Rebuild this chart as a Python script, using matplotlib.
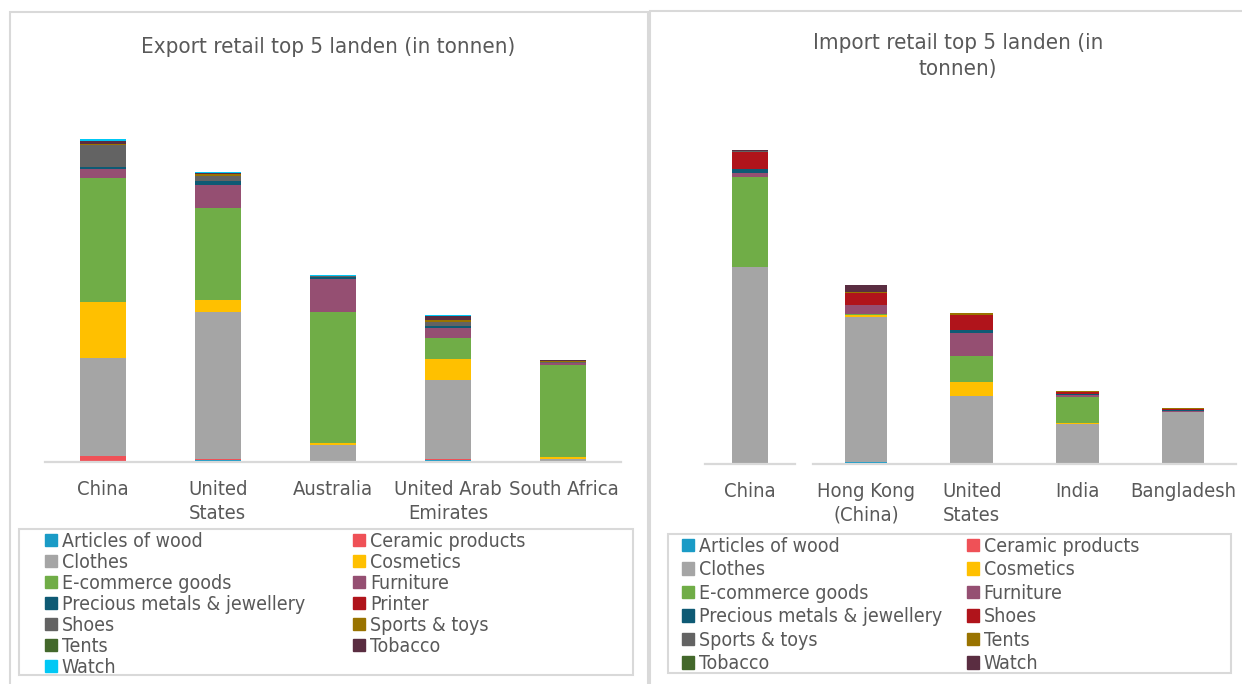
import matplotlib

matplotlib.use("Agg")
import matplotlib.pyplot as plt
from matplotlib.patches import Patch, Rectangle

plt.rcParams["font.family"] = ["DejaVu Sans"]
plt.rcParams["font.stretch"] = "condensed"

TXT = "#595959"
GRID = "#d9d9d9"

# export chart (estimated, tonnen in chart units)
EXP_COUNTRIES = ["China", "United\nStates", "Australia", "United Arab\nEmirates", "South Africa"]
EXP_CATS = ["Articles of wood", "Ceramic products", "Clothes", "Cosmetics", "E-commerce goods",
            "Furniture", "Precious metals & jewellery", "Printer", "Shoes", "Sports & toys",
            "Tents", "Tobacco", "Watch"]
EXP_VALUES = [
    [1.5, 1.7, 0.3, 1.7, 0.2],         # Articles of wood
    [4.7, 1.5, 0.2, 1.3, 0.1],         # Ceramic products
    [97.7, 146.7, 16.7, 79.3, 2.7],    # Clothes
    [55.7, 11.7, 2.0, 20.3, 2.0],      # Cosmetics
    [124.7, 92.0, 131.3, 21.0, 92.0],  # E-commerce goods
    [8.3, 23.7, 32.7, 10.3, 2.0],      # Furniture
    [2.0, 3.7, 2.0, 2.0, 0.3],         # Precious metals & jewellery
    [0.3, 0.5, 0.2, 0.5, 0.2],         # Printer
    [22.0, 5.0, 0.3, 4.0, 0.3],        # Shoes
    [1.3, 1.3, 0.3, 1.3, 1.2],         # Sports & toys
    [0.3, 0.3, 0.1, 0.3, 0.2],         # Tents
    [2.7, 1.2, 0.2, 4.3, 0.8],         # Tobacco
    [1.5, 1.0, 0.8, 1.0, 0.2],         # Watch
]

# import chart: China drawn as its own little chart, then the other four
IMP_COUNTRIES = ["China", "Hong Kong\n(China)", "United\nStates", "India", "Bangladesh"]
IMP_CATS = ["Articles of wood", "Ceramic products", "Clothes", "Cosmetics", "E-commerce goods",
            "Furniture", "Precious metals & jewellery", "Shoes", "Sports & toys", "Tents",
            "Tobacco", "Watch"]
IMP_VALUES = [
    [0.0, 1.3, 0.3, 0.0, 0.0],         # Articles of wood
    [0.0, 0.3, 0.2, 0.0, 0.0],         # Ceramic products
    [196.3, 145.3, 66.7, 39.7, 51.3],  # Clothes
    [0.5, 1.5, 14.3, 1.0, 0.3],        # Cosmetics
    [90.0, 0.8, 26.3, 26.0, 0.3],      # E-commerce goods
    [4.0, 9.3, 22.7, 2.3, 1.0],        # Furniture
    [3.7, 0.5, 3.0, 0.3, 0.2],         # Precious metals & jewellery
    [17.3, 11.3, 14.7, 2.3, 1.3],      # Shoes
    [0.5, 0.5, 0.8, 0.3, 0.5],         # Sports & toys
    [0.3, 0.8, 1.5, 0.5, 0.3],         # Tents
    [0.0, 0.0, 0.0, 0.0, 0.0],         # Tobacco
    [1.2, 7.3, 0.3, 0.3, 0.2],         # Watch
]

COLORS = ["#1a9bc6", "#ef5157", "#a5a5a5", "#ffc000", "#70ad47", "#954f72", "#0e5a74",
          "#b0141b", "#636363", "#997300", "#43682b", "#5a2d41", "#00c8f5"]

W, H = 1242, 684


def fx(px):
    return px / W


def fy(py):
    return 1 - py / H


def stacked(ax, labels, values, ymax):
    x = range(len(labels))
    bottom = [0.0] * len(labels)
    for k, row in enumerate(values):
        ax.bar(x, row, width=0.4, bottom=bottom, color=COLORS[k], linewidth=0)
        bottom = [b + v for b, v in zip(bottom, row)]
    ax.set_xlim(-0.5, len(labels) - 0.5)
    ax.set_ylim(0, ymax)
    ax.set_xticks(list(x))
    ax.set_xticklabels(labels, fontsize=14.5, color=TXT, linespacing=1.35)
    ax.tick_params(axis="x", length=0, pad=13)
    ax.set_yticks([])
    ax.spines[["top", "right", "left"]].set_visible(False)
    ax.spines["bottom"].set_color(GRID)
    ax.spines["bottom"].set_linewidth(1.6)
    ax.patch.set_alpha(0)


def legend(fig, cats, x0, y0, spacing, colspace):
    # matplotlib fills columns first, the reference reads row by row
    handles = [Patch(color=COLORS[k]) for k in range(len(cats))]
    order = list(range(0, len(cats), 2)) + list(range(1, len(cats), 2))
    fig.legend([handles[i] for i in order], [cats[i] for i in order],
               loc="upper left", bbox_to_anchor=(fx(x0), fy(y0)), ncol=2,
               frameon=False, fontsize=14, labelcolor=TXT, handlelength=0.6,
               handleheight=0.6, handletextpad=0.25, labelspacing=spacing,
               columnspacing=colspace, borderpad=0, borderaxespad=0)


fig = plt.figure(figsize=(W / 100, H / 100), dpi=100)

# panel and legend frames
for x0, y0, x1, y1 in [(10, 12, 648, 700), (650, 11, 1250, 700),
                       (19, 529, 633, 675), (668, 534, 1231, 673)]:
    fig.patches.append(Rectangle((fx(x0), fy(y1)), fx(x1 - x0), (y1 - y0) / H,
                                 transform=fig.transFigure, fill=False,
                                 edgecolor=GRID, linewidth=1.5))

# left: export
ax1 = fig.add_axes([fx(45), fy(462), fx(576), 332 / H])
stacked(ax1, EXP_COUNTRIES, EXP_VALUES, 332)
fig.text(fx(328), fy(47), "Export retail top 5 landen (in tonnen)", ha="center",
         va="center", fontsize=16, color=TXT)
legend(fig, EXP_CATS, 45, 532, 0.1, 2.5)

# right: import
ax2 = fig.add_axes([fx(705), fy(463.5), fx(90), 323.5 / H])
stacked(ax2, IMP_COUNTRIES[:1], [row[:1] for row in IMP_VALUES], 323.5)
ax3 = fig.add_axes([fx(813), fy(463.5), fx(423), 323.5 / H])
stacked(ax3, IMP_COUNTRIES[1:], [row[1:] for row in IMP_VALUES], 323.5)
fig.text(fx(958), fy(56), "Import retail top 5 landen (in\ntonnen)", ha="center",
         va="center", fontsize=16, color=TXT, linespacing=1.35)
legend(fig, IMP_CATS, 682, 537, 0.23, 1.3)

fig.savefig("out.png", dpi=100, facecolor="white")
